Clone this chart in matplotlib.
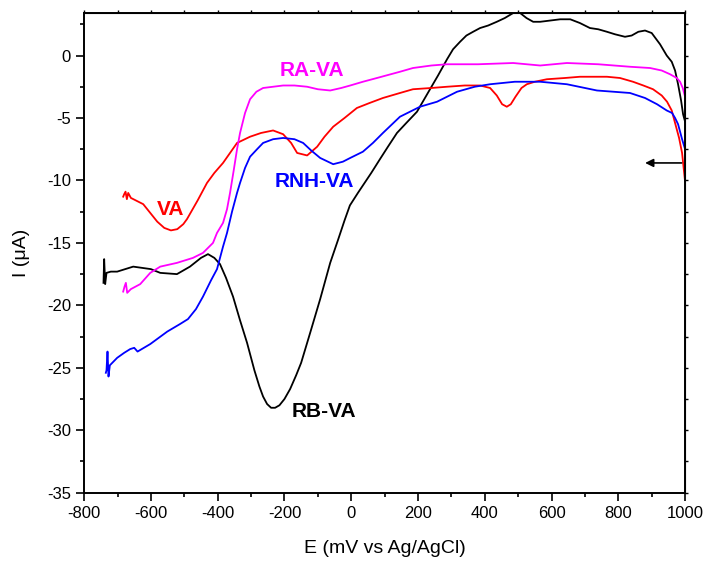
import matplotlib
matplotlib.use("Agg")
import matplotlib.pyplot as plt
from matplotlib.ticker import MultipleLocator

plt.rcParams['font.family'] = ['Liberation Sans', 'DejaVu Sans']
plt.rcParams['axes.unicode_minus'] = False

# RB-VA (black)
rb_x = [-742, -740, -737, -733, -720, -701, -653, -600, -572, -522, -483, -450, -429,
        -410, -393, -375, -354, -333, -312, -290, -275, -264, -252, -240, -228, -215, -200,
        -183, -165, -150, -123, -93, -63, -40, -20, -4, 20, 40, 60, 86, 110, 137, 165, 197,
        236, 260, 287, 305, 326, 345, 365, 386, 410, 436, 460, 485, 506, 525, 545, 566, 596,
        626, 656, 685, 715, 740, 766, 790, 805, 820, 840, 860, 880, 900, 925, 945, 960, 970,
        979, 988, 994, 1000]
rb_y = [-18.2, -16.3, -18.3, -17.4, -17.3, -17.3, -16.9, -17.1, -17.4, -17.5, -16.9, -16.2,
        -15.9, -16.2, -16.7, -17.8, -19.3, -21.2, -23.0, -25.2, -26.5, -27.3, -27.9, -28.2,
        -28.2, -28.0, -27.5, -26.7, -25.6, -24.6, -22.2, -19.5, -16.6, -14.8, -13.2, -12.0,
        -11.0, -10.2, -9.4, -8.3, -7.3, -6.2, -5.4, -4.5, -2.7, -1.6, -0.3, 0.5, 1.1, 1.6, 1.9,
        2.2, 2.4, 2.7, 3.0, 3.4, 3.4, 3.0, 2.7, 2.7, 2.8, 2.9, 2.9, 2.6, 2.2, 2.1, 1.9, 1.7,
        1.6, 1.5, 1.6, 1.9, 2.0, 1.8, 0.9, 0.0, -0.5, -1.2, -2.3, -3.6, -4.7, -5.3]

# VA (red)
va_x = [-683, -680, -676, -672, -668, -660, -623, -602, -581, -560, -540, -521, -503,
        -492, -460, -432, -410, -384, -342, -303, -270, -234, -204, -180, -162, -132, -102,
        -80, -54, -20, 17, 55, 95, 146, 185, 240, 287, 340, 386, 416, 436, 452, 466, 478,
        492, 510, 526, 550, 586, 640, 685, 766, 805, 844, 875, 904, 930, 946, 960, 970, 982,
        991, 1000]
va_y = [-11.3, -11.1, -10.9, -11.5, -11.0, -11.4, -11.9, -12.6, -13.3, -13.8, -14.0, -13.9,
        -13.5, -13.1, -11.6, -10.2, -9.4, -8.6, -7.0, -6.5, -6.2, -6.0, -6.3, -7.0, -7.8,
        -8.0, -7.3, -6.5, -5.7, -5.0, -4.2, -3.8, -3.4, -3.0, -2.7, -2.6, -2.5, -2.4, -2.4,
        -2.6, -3.2, -3.9, -4.1, -3.9, -3.3, -2.6, -2.3, -2.1, -1.9, -1.8, -1.7, -1.7, -1.8,
        -2.1, -2.4, -2.7, -3.2, -3.7, -4.4, -5.4, -6.6, -7.8, -10.1]

# RA-VA (magenta)
ra_x = [-683, -679, -675, -671, -660, -632, -602, -572, -522, -474, -444, -414, -402, -384,
        -372, -363, -352, -342, -333, -318, -303, -284, -264, -234, -204, -170, -132, -100,
        -63, -30, -3, 35, 77, 146, 185, 240, 287, 380, 485, 566, 646, 740, 835, 895, 930, 955,
        975, 985, 993, 1000]
ra_y = [-18.9, -18.5, -18.2, -19.0, -18.7, -18.3, -17.4, -16.9, -16.6, -16.2, -15.8, -15.0,
        -14.2, -13.4, -12.3, -11.0, -9.2, -7.5, -6.2, -4.6, -3.5, -2.9, -2.6, -2.5, -2.4,
        -2.4, -2.5, -2.7, -2.8, -2.6, -2.4, -2.1, -1.8, -1.3, -1.0, -0.8, -0.7, -0.7, -0.6,
        -0.8, -0.6, -0.7, -0.9, -1.0, -1.2, -1.5, -1.8, -2.1, -2.6, -3.3]

# RNH-VA (blue)
rnh_x = [-735, -733, -730, -727, -723, -701, -680, -662, -650, -640, -602, -551, -513,
         -489, -465, -444, -420, -402, -384, -372, -357, -342, -333, -318, -303, -282, -264,
         -234, -204, -170, -144, -120, -93, -54, -25, -3, 35, 65, 95, 146, 206, 257, 317,
         370, 416, 490, 566, 646, 736, 835, 880, 916, 945, 961, 970, 979, 991, 1000]
rnh_y = [-25.4, -25.2, -23.7, -25.7, -24.8, -24.2, -23.8, -23.5, -23.4, -23.7, -23.1, -22.1,
         -21.5, -21.1, -20.3, -19.3, -18.0, -17.1, -15.3, -14.2, -12.5, -11.0, -10.2, -9.0,
         -8.1, -7.5, -7.0, -6.7, -6.6, -6.7, -7.0, -7.6, -8.2, -8.7, -8.5, -8.2, -7.7, -7.0,
         -6.2, -4.9, -4.1, -3.7, -2.9, -2.5, -2.3, -2.1, -2.1, -2.3, -2.8, -3.0, -3.4, -3.9,
         -4.4, -4.6, -5.0, -5.5, -6.7, -7.5]

fig = plt.figure(figsize=(7.07, 5.67), dpi=100)
ax = fig.add_axes([0.119, 0.131, 0.850, 0.846])

lw = 1.3
ax.plot(rb_x, rb_y, color='black', lw=lw)
ax.plot(va_x, va_y, color='#ff0000', lw=lw)
ax.plot(ra_x, ra_y, color='#ff00ff', lw=lw)
ax.plot(rnh_x, rnh_y, color='#0000ff', lw=lw)

# labels on curves
ax.text(-542, -12.3, 'VA', color='#ff0000', fontsize=15, fontweight='bold',
        ha='center', va='center')
ax.text(-117, -1.2, 'RA-VA', color='#ff00ff', fontsize=15, fontweight='bold',
        ha='center', va='center')
ax.text(-111, -10.1, 'RNH-VA', color='#0000ff', fontsize=15, fontweight='bold',
        ha='center', va='center')
ax.text(-81, -28.5, 'RB-VA', color='black', fontsize=15, fontweight='bold',
        ha='center', va='center')

# scan direction arrow
ax.annotate('', xy=(872, -8.6), xytext=(998, -8.6),
            arrowprops=dict(arrowstyle='-|>', color='black', lw=1.2, mutation_scale=12))

ax.set_xlim(-800, 1000)
ax.set_ylim(-35, 3.4)
ax.xaxis.set_major_locator(MultipleLocator(200))
ax.xaxis.set_minor_locator(MultipleLocator(100))
ax.yaxis.set_major_locator(MultipleLocator(5))
ax.yaxis.set_minor_locator(MultipleLocator(2.5))
ax.tick_params(which='major', direction='out', length=6, width=1.2, labelsize=12)
ax.tick_params(which='minor', direction='out', length=3, width=1.2)
for sp in ax.spines.values():
    sp.set_linewidth(1.4)

# mirrored short ticks on top and right
top = ax.secondary_xaxis('top')
top.xaxis.set_major_locator(MultipleLocator(200))
top.xaxis.set_minor_locator(MultipleLocator(100))
top.tick_params(which='both', direction='out', length=2, width=1.0, labeltop=False)
right = ax.secondary_yaxis('right')
right.yaxis.set_major_locator(MultipleLocator(5))
right.yaxis.set_minor_locator(MultipleLocator(2.5))
right.tick_params(which='both', direction='out', length=2, width=1.0, labelright=False)

ax.set_xlabel('E (mV vs Ag/AgCl)', fontsize=14, labelpad=14)
ax.set_ylabel('I (μA)', fontsize=14, labelpad=12)

fig.savefig('out.png', dpi=100)
